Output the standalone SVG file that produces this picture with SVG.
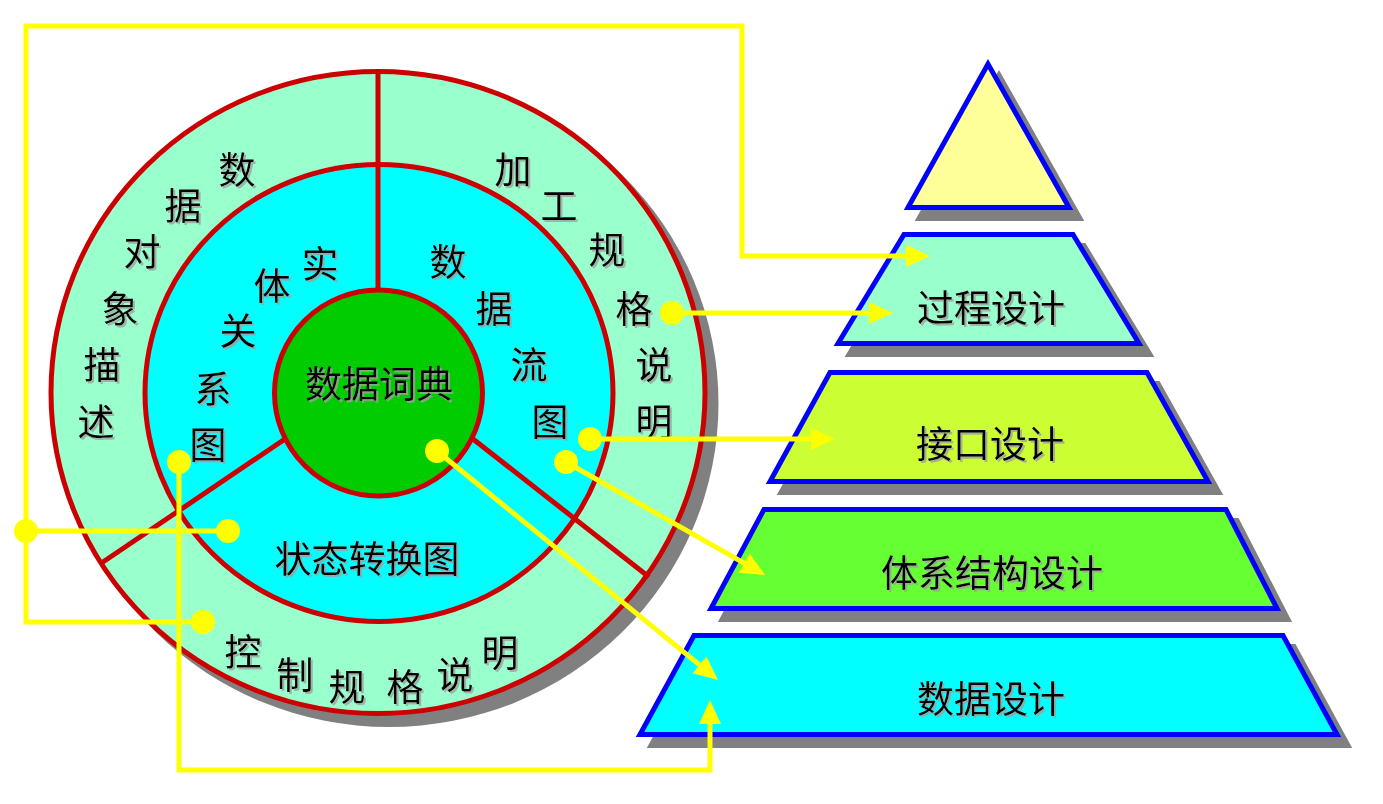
<svg xmlns="http://www.w3.org/2000/svg" width="1383" height="804" viewBox="0 0 1383 804">
<defs>
<style>
.t{font-family:"Noto Sans CJK SC","Noto Sans CJK JP",sans-serif;font-size:37px;fill:#000;text-anchor:middle;dominant-baseline:central;filter:url(#ts)}
.tp{font-size:37px}
.red{fill:none;stroke:#CC0000;stroke-width:5}
.lay{stroke:#0000FF;stroke-width:5;stroke-linejoin:miter}
.sh{fill:#808080;stroke:#808080;stroke-width:5}
.con{fill:none;stroke:#FFFF00;stroke-width:5}
.dot{fill:#FFFF00}
</style>
<filter id="ts" x="-20%" y="-20%" width="140%" height="140%">
<feDropShadow dx="2" dy="2" stdDeviation="0" flood-color="#A0A0A0" flood-opacity="0.8"/>
</filter>
<marker id="ah" viewBox="0 0 24 24" refX="12" refY="12" markerWidth="24" markerHeight="24" markerUnits="userSpaceOnUse" orient="auto">
<path d="M0,1 L24,12 L0,23 z" fill="#FFFF00"/>
</marker>
</defs>
<rect width="1383" height="804" fill="#FFFFFF"/>

<g id="wheel">
<ellipse cx="389" cy="403.5" rx="329.5" ry="323.5" fill="#808080"/>
<ellipse cx="378" cy="392.5" rx="327" ry="321" fill="#99FFCC" stroke="#CC0000" stroke-width="5"/>
<ellipse cx="379" cy="393" rx="234" ry="228.5" fill="#00FFFF" stroke="#CC0000" stroke-width="5"/>
<line class="red" x1="378" y1="71" x2="378" y2="292"/>
<line class="red" x1="100" y1="564" x2="285" y2="439"/>
<line class="red" x1="473" y1="439" x2="649" y2="577"/>
<ellipse cx="378.5" cy="393" rx="104" ry="103" fill="#00CC00" stroke="#CC0000" stroke-width="5"/>
</g>

<g id="node-data-object-desc">
<text class="t" x="237" y="168">数</text>
<text class="t" x="183" y="204">据</text>
<text class="t" x="142" y="250">对</text>
<text class="t" x="120" y="307">象</text>
<text class="t" x="102" y="363">描</text>
<text class="t" x="96" y="420">述</text>
</g>
<g id="node-er-diagram">
<text class="t" x="320" y="262">实</text>
<text class="t" x="272" y="284">体</text>
<text class="t" x="238" y="329">关</text>
<text class="t" x="213" y="387">系</text>
<text class="t" x="208" y="443">图</text>
</g>
<g id="node-data-dictionary">
<text class="t" x="379" y="382">数据词典</text>
</g>
<g id="node-dfd">
<text class="t" x="448" y="260">数</text>
<text class="t" x="494" y="307">据</text>
<text class="t" x="529" y="363">流</text>
<text class="t" x="550" y="420">图</text>
</g>
<g id="node-process-spec">
<text class="t" x="513" y="168">加</text>
<text class="t" x="559" y="204">工</text>
<text class="t" x="607" y="248">规</text>
<text class="t" x="634" y="307">格</text>
<text class="t" x="654" y="363">说</text>
<text class="t" x="654" y="420">明</text>
</g>
<g id="node-std">
<text class="t" x="367" y="557">状态转换图</text>
</g>
<g id="node-control-spec">
<text class="t" x="243" y="650">控</text>
<text class="t" x="295" y="673">制</text>
<text class="t" x="347" y="685">规</text>
<text class="t" x="405" y="685">格</text>
<text class="t" x="455" y="673">说</text>
<text class="t" x="500" y="651">明</text>
</g>

<g id="layer-top">
<polygon class="sh" points="999,75 919,218.5 1080,218.5"/>
<polygon class="lay" fill="#FFFF99" points="988,64 908,207.5 1069,207.5"/>
</g>
<g id="layer-procedure">
<polygon class="sh" points="915,245.5 1084,245.5 1150,354.5 849,354.5"/>
<polygon class="lay" fill="#99FFCC" points="904,234.5 1073,234.5 1139,343.5 838,343.5"/>
<text class="t tp" x="991" y="306">过程设计</text>
</g>
<g id="layer-interface">
<polygon class="sh" points="841,383.5 1158,383.5 1219,492.5 781,492.5"/>
<polygon class="lay" fill="#CCFF33" points="830,372.5 1147,372.5 1208,481.5 770,481.5"/>
<text class="t tp" x="990" y="442">接口设计</text>
</g>
<g id="layer-architecture">
<polygon class="sh" points="775,520.5 1237,520.5 1288,619.5 722,619.5"/>
<polygon class="lay" fill="#66FF33" points="764,509.5 1226,509.5 1277,608.5 711,608.5"/>
<text class="t tp" x="992" y="571">体系结构设计</text>
</g>
<g id="layer-data">
<polygon class="sh" points="705,646.5 1294,646.5 1348,745.5 651,745.5"/>
<polygon class="lay" fill="#00FFFF" points="694,635.5 1283,635.5 1337,734.5 640,734.5"/>
<text class="t tp" x="991" y="697">数据设计</text>
</g>

<g id="connectors">
<path class="con" d="M203,622 H26 V26 H742 V256 H918" marker-end="url(#ah)"/>
<path class="con" d="M26,531 H228"/>
<path class="con" d="M179,462 V770 H710 V712" marker-end="url(#ah)"/>
<path class="con" d="M672,313 H881" marker-end="url(#ah)"/>
<path class="con" d="M590,439 H823" marker-end="url(#ah)"/>
<path class="con" d="M566,462 L754.6,569.1" marker-end="url(#ah)"/>
<path class="con" d="M437,451 L708.7,672.4" marker-end="url(#ah)"/>
<circle class="dot" cx="203" cy="622" r="12"/>
<circle class="dot" cx="228" cy="531" r="12"/>
<circle class="dot" cx="26" cy="531" r="12"/>
<circle class="dot" cx="179" cy="462" r="12"/>
<circle class="dot" cx="672" cy="313" r="12"/>
<circle class="dot" cx="590" cy="439" r="12"/>
<circle class="dot" cx="566" cy="462" r="12"/>
<circle class="dot" cx="437" cy="451" r="12"/>
</g>
</svg>
